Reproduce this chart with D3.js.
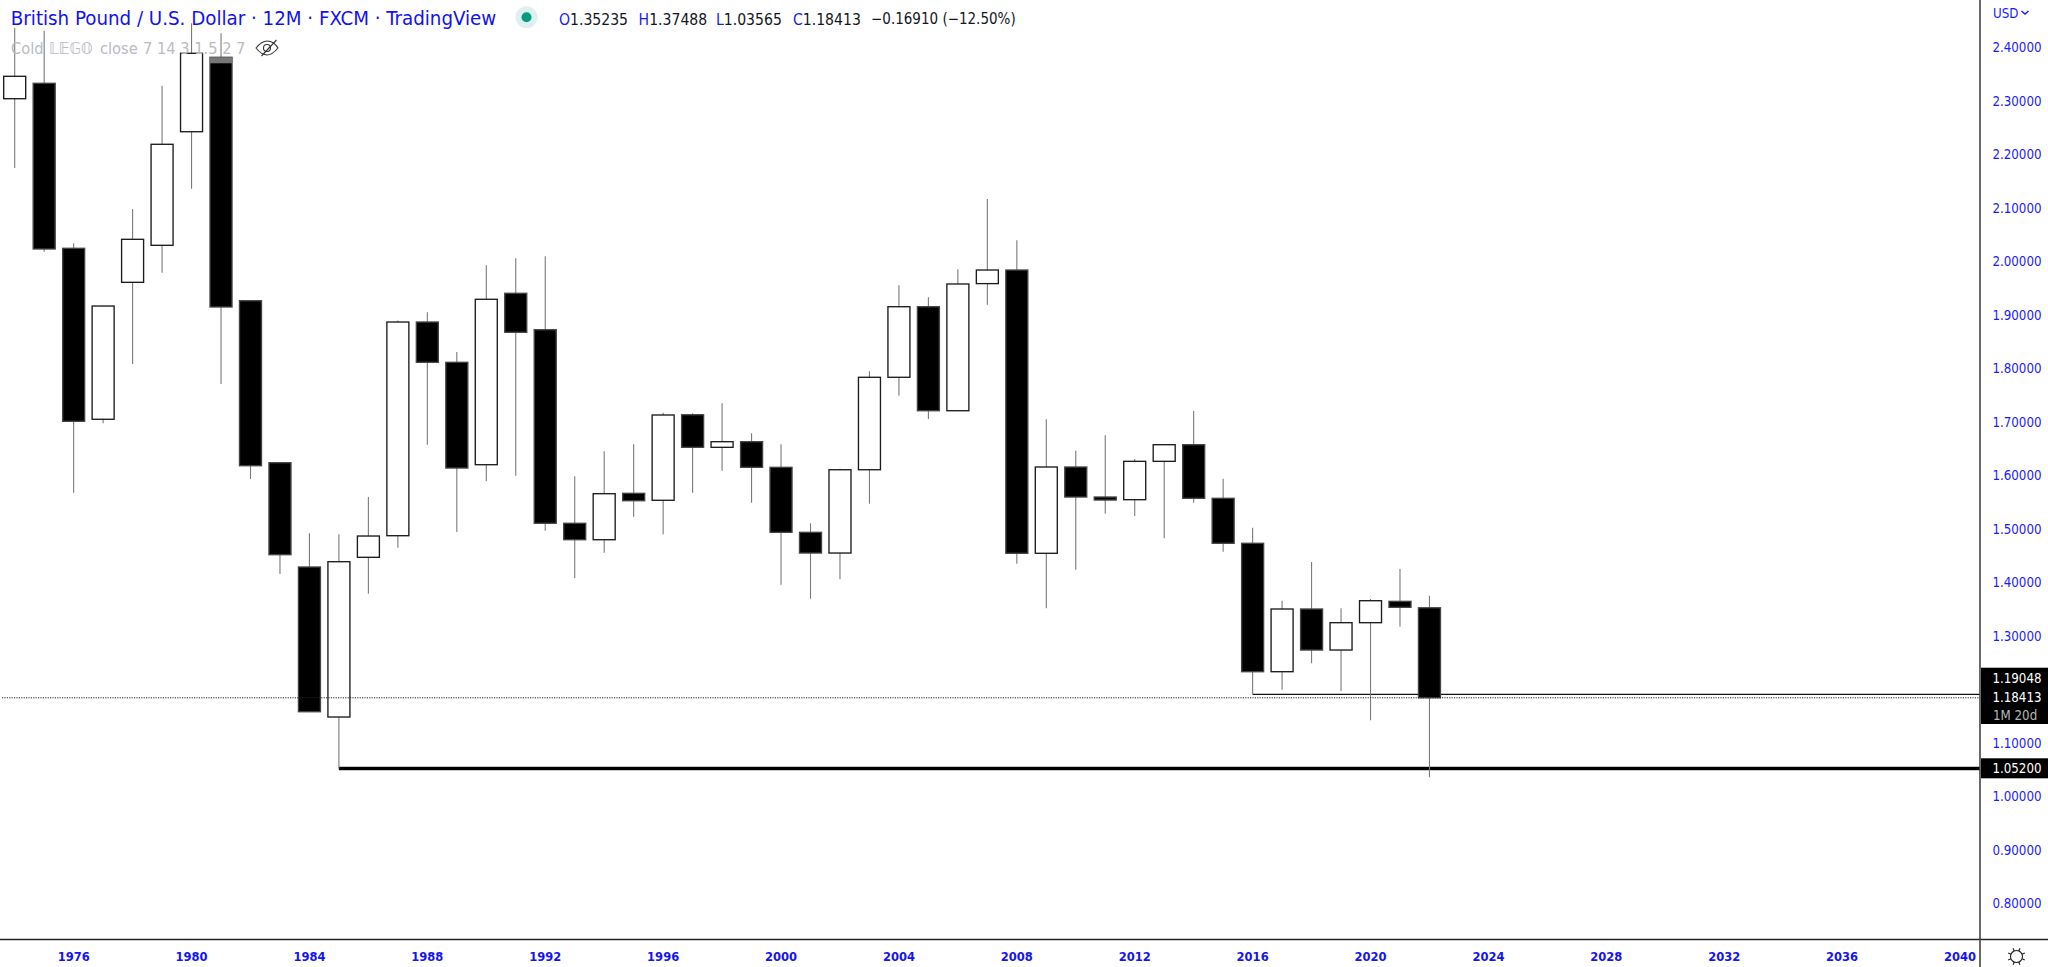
<!DOCTYPE html>
<html><head><meta charset="utf-8">
<script src="https://cdn.jsdelivr.net/npm/d3@7"></script>
<style>
html,body{margin:0;padding:0;background:#fff;overflow:hidden}
svg{display:block}
text{font-family:"DejaVu Sans Condensed","DejaVu Sans",sans-serif;font-stretch:condensed}
</style></head><body>
<svg id="c" width="2048" height="967"></svg>
<script>
const years=d3.range(1974,2023);
const opens=[2.3039,2.3327,2.0243,1.7047,1.9607,2.0299,2.2422,2.3813,1.9263,1.6235,1.4286,1.1482,1.4467,1.4871,1.8865,1.8112,1.6198,1.9402,1.8721,1.5103,1.4796,1.5663,1.5533,1.7132,1.6523,1.6628,1.6149,1.4934,1.4547,1.6104,1.7832,1.9151,1.7207,1.9583,1.9837,1.4542,1.6155,1.5594,1.5544,1.6261,1.6572,1.5570,1.4729,1.2329,1.3501,1.2734,1.3245,1.3644,1.35235];
const highs=[2.4361,2.4310,2.0336,1.9170,2.0977,2.3282,2.4449,2.4262,1.9263,1.6235,1.4916,1.4897,1.5594,1.8893,1.9047,1.8304,1.9925,2.0056,2.0093,1.5981,1.6448,1.6579,1.7170,1.7158,1.7346,1.6785,1.6579,1.5103,1.6122,1.7944,1.9551,1.9327,1.9850,2.1164,2.0392,1.7047,1.6460,1.6747,1.6304,1.6572,1.7202,1.5936,1.5020,1.3656,1.4379,1.3514,1.3688,1.4248,1.37488];
const lows=[2.1744,2.0179,1.5675,1.6972,1.8080,1.9787,2.1357,1.7706,1.5931,1.4155,1.1581,1.0520,1.3787,1.4646,1.6572,1.4940,1.5888,1.5992,1.4964,1.4080,1.4553,1.5226,1.4897,1.5675,1.6086,1.5488,1.3955,1.3693,1.4056,1.5469,1.7488,1.7052,1.7207,1.9189,1.4347,1.3514,1.4235,1.5282,1.5239,1.4822,1.5488,1.4572,1.1905,1.1992,1.2486,1.1968,1.1420,1.3170,1.03565];
const closes=[2.3458,2.0230,1.7009,1.9164,2.0411,2.2187,2.3888,1.9146,1.6179,1.4516,1.1581,1.4385,1.4865,1.8865,1.8112,1.6136,1.9290,1.8673,1.5103,1.4796,1.5656,1.5525,1.7127,1.6523,1.6628,1.6149,1.4934,1.4547,1.6104,1.7832,1.9151,1.7207,1.9576,1.9837,1.4542,1.6155,1.5594,1.5538,1.6261,1.6572,1.5570,1.4729,1.2329,1.3501,1.2734,1.3245,1.3656,1.3532,1.18413];
const priceTicks=[2.4,2.3,2.2,2.1,2.0,1.9,1.8,1.7,1.6,1.5,1.4,1.3,1.1,1.0,0.9,0.8];
const yearTicks=d3.range(1976,2041,4);
const levelLow=1.052, levelMid=1.19048, lastPrice=1.18413;
const levelLowStart=1985, levelMidStart=2016;
const stripTop=2.3813, stripBottom=2.3701, stripYear=1981;
const titleText="British Pound / U.S. Dollar · 12M · FXCM · TradingView";
const legendKeys=["O","H","L","C"];
const legendValues=["1.35235","1.37488","1.03565","1.18413"];
const changeText="−0.16910 (−12.50%)";

const BLUE="#1a1aff", AXIS=1980, BOTTOM=939.5;
const x=d3.scaleLinear().domain([1974,2040]).range([14.7,1960]);
const y=d3.scaleLinear().domain([2.4,0.8]).range([47.3,903.3]);
const W=22;
const svg=d3.select("#c");
svg.append("rect").attr("width",2048).attr("height",967).attr("fill","#fff");

const plot=svg.append("g");
const data=years.map((yr,i)=>({yr,o:opens[i],h:highs[i],l:lows[i],c:closes[i]}));

plot.append("line").attr("x1",x(levelLowStart)).attr("x2",AXIS).attr("y1",y(levelLow)).attr("y2",y(levelLow)).attr("stroke","#c8c8c8").attr("stroke-width",5);
plot.append("line").attr("x1",x(levelLowStart)).attr("x2",AXIS).attr("y1",y(levelLow)).attr("y2",y(levelLow)).attr("stroke","#000").attr("stroke-width",3);
plot.append("line").attr("x1",x(levelMidStart)).attr("x2",AXIS).attr("y1",y(levelMid)).attr("y2",y(levelMid)).attr("stroke","#111").attr("stroke-width",1.2);

plot.selectAll("line.w").data(data).join("line").attr("class","w")
 .attr("x1",d=>x(d.yr)).attr("x2",d=>x(d.yr)).attr("y1",d=>y(d.h)).attr("y2",d=>y(d.l))
 .attr("stroke","#7a7a7a").attr("stroke-width",1.1);
plot.selectAll("rect.b").data(data).join("rect").attr("class","b")
 .attr("x",d=>x(d.yr)-W/2).attr("width",W)
 .attr("y",d=>y(Math.max(d.o,d.c))).attr("height",d=>Math.max(1.5,Math.abs(y(d.o)-y(d.c))))
 .attr("fill",d=>d.c>=d.o?"#fff":"#000").attr("stroke",d=>d.c>=d.o?"#1c1c1c":"#444").attr("stroke-width",1.35);
plot.append("rect").attr("x",x(stripYear)-W/2).attr("width",W).attr("y",y(stripTop)).attr("height",y(stripBottom)-y(stripTop)).attr("fill","#777");

plot.append("line").attr("x1",2).attr("x2",AXIS).attr("y1",y(lastPrice)).attr("y2",y(lastPrice)).attr("stroke","#222").attr("stroke-width",1).attr("stroke-dasharray","1.2 1.2");

svg.append("line").attr("x1",0).attr("x2",2048).attr("y1",BOTTOM).attr("y2",BOTTOM).attr("stroke","#222").attr("stroke-width",1.4);
svg.append("line").attr("x1",AXIS).attr("x2",AXIS).attr("y1",0).attr("y2",967).attr("stroke","#444").attr("stroke-width",1.6);

const fs=13.2;
svg.selectAll("text.p").data(priceTicks).join("text").attr("class","p")
 .attr("x",2041.5).attr("text-anchor","end").attr("y",d=>y(d)).attr("dy","0.36em")
 .attr("fill",BLUE).attr("font-size",fs).text(d=>d.toFixed(5));
svg.append("text").attr("x",1993).attr("y",13.5).attr("dy","0.36em").attr("fill",BLUE).attr("font-size",fs).text("USD");
svg.append("path").attr("d","M2021.5 11l3.5 3 3.5-3").attr("fill","none").attr("stroke",BLUE).attr("stroke-width",1.5);

svg.append("rect").attr("x",AXIS+1).attr("width",67).attr("y",667.7).attr("height",56.3).attr("fill","#000");
svg.append("rect").attr("x",AXIS+1).attr("width",67).attr("y",758.3).attr("height",20).attr("fill","#000");
const priceLabel=(v,py)=>svg.append("text").attr("x",2041.5).attr("text-anchor","end").attr("y",py).attr("dy","0.36em").attr("fill","#fff").attr("font-size",fs).text(v.toFixed(5));
priceLabel(levelMid,677.8);
priceLabel(lastPrice,697.7);
priceLabel(levelLow,y(levelLow));
svg.append("text").attr("x",1993).attr("y",714.8).attr("dy","0.36em").attr("fill","#b5b5b5").attr("font-size",fs).text("1M 20d");

svg.selectAll("text.t").data(yearTicks).join("text").attr("class","t")
 .attr("x",d=>x(d)).attr("text-anchor","middle").attr("y",956.5).attr("dy","0.36em")
 .attr("fill","#1414f0").attr("font-size",12.8).attr("font-weight",700).text(d=>d);

const sun=svg.append("g").attr("transform","translate(2016.5,956.5)").attr("fill","none").attr("stroke","#222").attr("stroke-width",1.1);
sun.append("circle").attr("r",6);
d3.range(8).forEach(k=>{const a=k*Math.PI/4+Math.PI/8;sun.append("line").attr("x1",6*Math.cos(a)).attr("y1",6*Math.sin(a)).attr("x2",9*Math.cos(a)).attr("y2",9*Math.sin(a));});

svg.append("text").attr("x",10.8).attr("y",17.5).attr("dy","0.36em").attr("fill","#1212f0").attr("font-size",20.3).text(titleText);
svg.append("circle").attr("cx",526.5).attr("cy",17.3).attr("r",11).attr("fill","#dff1ee");
svg.append("circle").attr("cx",526.5).attr("cy",17.3).attr("r",5).attr("fill","#089981");
const keyX=[559,638.6,716,793];
legendKeys.forEach((k,i)=>{
 const t=svg.append("text").attr("x",keyX[i]).attr("y",19).attr("dy","0.36em").attr("font-size",15.6);
 t.append("tspan").attr("fill",BLUE).text(k);
 t.append("tspan").attr("fill","#131722").text(legendValues[i]);
});
svg.append("text").attr("x",871).attr("y",19).attr("dy","0.36em").attr("font-size",15).attr("fill","#131722").text(changeText);
const l2=svg.append("text").attr("y",48).attr("dy","0.36em").attr("font-size",16.3).attr("fill","#b8bbc4");
l2.append("tspan").attr("x",11).text("Cold");
l2.append("tspan").attr("x",49).style("font-stretch","normal").attr("font-size",16.5).text("𝕃𝔼𝔾𝕆");
l2.append("tspan").attr("x",100).text("close");
l2.append("tspan").attr("x",143).text("7 14 3 1.5 2 7");
const eye=svg.append("g").attr("transform","translate(267,48)").attr("fill","none").attr("stroke","#333").attr("stroke-width",1.1);
eye.append("path").attr("d","M-11 0C-6 -6 -2 -7 0 -7C4 -7 8 -5 11 0C6 6 2 7 0 7C-3 7 -7 5 -11 0Z");
eye.append("circle").attr("r",3.5);
eye.append("line").attr("x1",-5.5).attr("y1",8).attr("x2",9.5).attr("y2",-8);
</script>
</body></html>
